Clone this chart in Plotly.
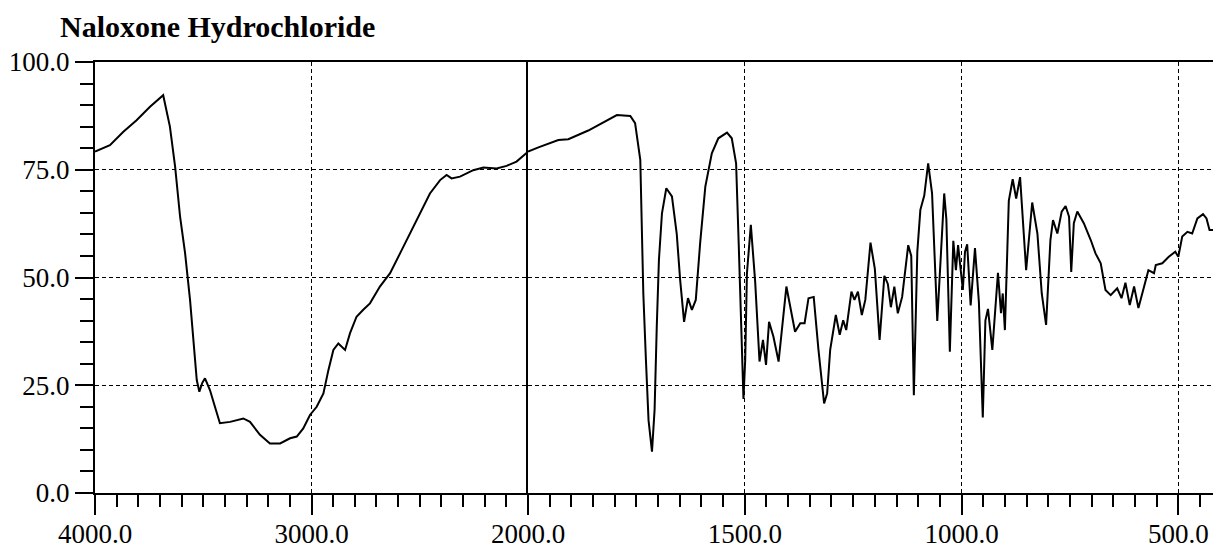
import plotly.graph_objects as go

title_text = "Naloxone Hydrochloride"

wavenumber = [
    4000, 3931, 3869, 3808, 3746, 3692, 3685, 3654, 3630, 3607, 3584, 3561, 3546, 3530, 3518,
    3505, 3492, 3469, 3446, 3423, 3376, 3315, 3284, 3238, 3192, 3145, 3099, 3068, 3038, 3007,
    2976, 2945, 2922, 2899, 2876, 2845, 2822, 2792, 2761, 2730, 2684, 2637, 2591, 2545, 2499,
    2453, 2406, 2376, 2353, 2314, 2253, 2206, 2145, 2099, 2053, 2006, 2000,
    1976, 1930, 1907, 1861, 1822, 1795, 1764, 1753, 1741, 1737, 1734, 1728, 1722, 1714, 1708,
    1703, 1698, 1691, 1681, 1668, 1657, 1649, 1640, 1631, 1622, 1613, 1603, 1591, 1576, 1561,
    1541, 1530, 1520, 1514, 1508, 1503, 1499, 1495, 1486, 1476, 1466, 1458, 1451, 1444, 1434,
    1422, 1404, 1395, 1384, 1372, 1362, 1353, 1341, 1330, 1317, 1310, 1303, 1290, 1281, 1273,
    1266, 1254, 1247, 1239, 1230, 1222, 1210, 1200, 1189, 1178, 1170, 1163, 1155, 1147, 1137,
    1123, 1116, 1110, 1102, 1095, 1086, 1077, 1068, 1056, 1046, 1040, 1035, 1027, 1019, 1013,
    1008, 1003, 997, 992, 987, 979, 969, 960, 951, 945, 939, 929, 916, 909, 905, 900,
    891, 882, 874, 865, 851, 837, 825, 815, 805, 795, 789, 779, 769, 760, 752,
    747, 741, 733, 718, 702, 691, 679, 668, 656, 641, 631, 622, 612, 602, 592,
    583, 569, 556, 552, 537, 522, 507, 500, 491, 479, 468, 456, 443, 435, 428, 420,
]

transmittance = [
    79.2, 80.7, 83.8, 86.5, 89.6, 92.1, 92.3, 85.0, 75.7, 64.1, 55.7, 44.8, 36.3, 26.2, 23.5,
    25.5, 26.6, 23.9, 20.0, 16.2, 16.5, 17.3, 16.5, 13.5, 11.5, 11.5, 12.7, 13.1, 15.0, 18.1,
    20.0, 23.1, 28.5, 33.2, 34.7, 33.2, 37.1, 40.9, 42.5, 44.0, 47.9, 51.0, 55.6, 60.2, 64.9,
    69.5, 72.6, 73.8, 73.0, 73.4, 74.9, 75.5, 75.3, 75.9, 76.9, 79.0, 79.2,
    80.2, 81.9, 82.1, 84.1, 86.2, 87.7, 87.5, 85.8, 77.3, 61.8, 46.3, 30.9, 16.9, 9.6, 19.3,
    38.6, 54.1, 64.9, 70.7, 68.8, 60.2, 49.4, 39.7, 45.2, 42.5, 44.8, 57.9, 71.1, 78.8, 82.3,
    83.6, 82.3, 76.5, 57.9, 37.1, 21.8, 30.9, 51.0, 62.2, 49.0, 30.5, 35.5, 29.7, 39.7, 36.3,
    30.5, 47.9, 43.2, 37.4, 39.4, 39.4, 45.2, 45.5, 33.2, 20.8, 23.1, 33.2, 41.3, 36.7, 40.1,
    37.8, 46.7, 44.8, 46.7, 41.3, 44.8, 58.1, 52.0, 35.5, 50.4, 48.5, 43.1, 47.9, 41.7, 45.5,
    57.5, 55.0, 22.7, 56.0, 65.7, 69.0, 76.5, 69.5, 39.9, 59.0, 69.5, 63.5, 32.8, 58.5, 51.7,
    57.5, 52.5, 47.1, 56.0, 57.7, 43.5, 56.8, 44.3, 17.5, 40.0, 42.7, 33.2, 51.1, 41.7, 46.3, 37.8,
    67.8, 72.8, 68.3, 73.3, 51.7, 67.4, 60.2, 46.3, 39.0, 58.7, 63.3, 60.2, 65.3, 66.6, 64.1,
    51.3, 62.6, 65.3, 62.6, 58.7, 55.6, 53.3, 47.1, 45.9, 47.5, 45.2, 48.8, 43.6, 47.9, 42.9,
    46.3, 51.7, 51.0, 52.9, 53.3, 54.8, 56.0, 54.8, 59.5, 60.6, 60.2, 63.7, 64.7, 63.7, 61.0, 61.0,
]

# axis definitions (scale changes at 2000 cm-1)
x_range_left = [4000, 2000]
x_range_right = [2000, 420]
x_major_left = [4000, 3000, 2000]
x_major_right = [1500, 1000, 500]
y_major = [0, 25, 50, 75, 100]

split = 2000
left_x = [w for w in wavenumber if w >= split]
left_y = [t for w, t in zip(wavenumber, transmittance) if w >= split]
right_x = [w for w in wavenumber if w <= split]
right_y = [t for w, t in zip(wavenumber, transmittance) if w <= split]

FONT = "Liberation Serif"
W, H = 1213, 548
ML, MR, MT, MB = 95, 0, 62, 55
split_frac = (528 - ML) / (W - ML - MR)

fig = go.Figure()
line_style = dict(color="black", width=2)
fig.add_trace(go.Scatter(x=left_x, y=left_y, mode="lines", line=line_style,
                         xaxis="x", yaxis="y", showlegend=False, hoverinfo="skip"))
fig.add_trace(go.Scatter(x=right_x, y=right_y, mode="lines", line=line_style,
                         xaxis="x2", yaxis="y2", showlegend=False, hoverinfo="skip"))

grid = dict(showgrid=True, gridcolor="black", gridwidth=1, griddash="4px,3px")
tickfont = dict(family=FONT, size=27, color="black")

common_x = dict(
    showline=True, linecolor="black", linewidth=2, mirror=True,
    ticks="outside", ticklen=20, tickwidth=1.5, tickcolor="black",
    tickformat=".1f", tickfont=tickfont, zeroline=False, automargin=False,
    ticklabelstandoff=-4, **grid,
)

fig.update_layout(
    width=W, height=H,
    margin=dict(l=ML, r=MR, t=MT, b=MB, autoexpand=False),
    paper_bgcolor="white", plot_bgcolor="white",
    title=dict(text="<b>" + title_text + "</b>", x=60 / W, xanchor="left",
               y=1 - 26 / H, yanchor="middle",
               font=dict(family=FONT, size=30, color="black")),
    xaxis=dict(domain=[0, split_frac], range=x_range_left, tickmode="array",
               tickvals=x_major_left,
               minor=dict(ticks="outside", ticklen=12, tickwidth=1.5, tickcolor="black",
                          dtick=100, tick0=0, showgrid=False),
               **common_x),
    xaxis2=dict(domain=[split_frac, 1], range=x_range_right, tickmode="array",
                tickvals=x_major_right, anchor="y2",
                minor=dict(ticks="outside", ticklen=12, tickwidth=1.5, tickcolor="black",
                           dtick=50, tick0=0, showgrid=False),
                **common_x),
    yaxis=dict(range=[0, 100], tickmode="array", tickvals=y_major, tickformat=".1f",
               showline=True, linecolor="black", linewidth=2, mirror=False,
               ticks="outside", ticklen=18, tickwidth=1.5, tickcolor="black",
               tickfont=tickfont, zeroline=False, automargin=False,
               minor=dict(ticks="outside", ticklen=13, tickwidth=1.5, tickcolor="black",
                          dtick=5, tick0=0, showgrid=False),
               **grid),
    yaxis2=dict(range=[0, 100], anchor="x2", matches="y", tickmode="array",
                tickvals=y_major, showticklabels=False, ticks="",
                showline=True, linecolor="black", linewidth=1.5, mirror=False,
                zeroline=False, automargin=False, **grid),
)

fig.write_html(
    "out.html",
    config={"displayModeBar": False},
    post_script="document.body.style.margin='0';document.body.style.overflow='hidden';",
)
